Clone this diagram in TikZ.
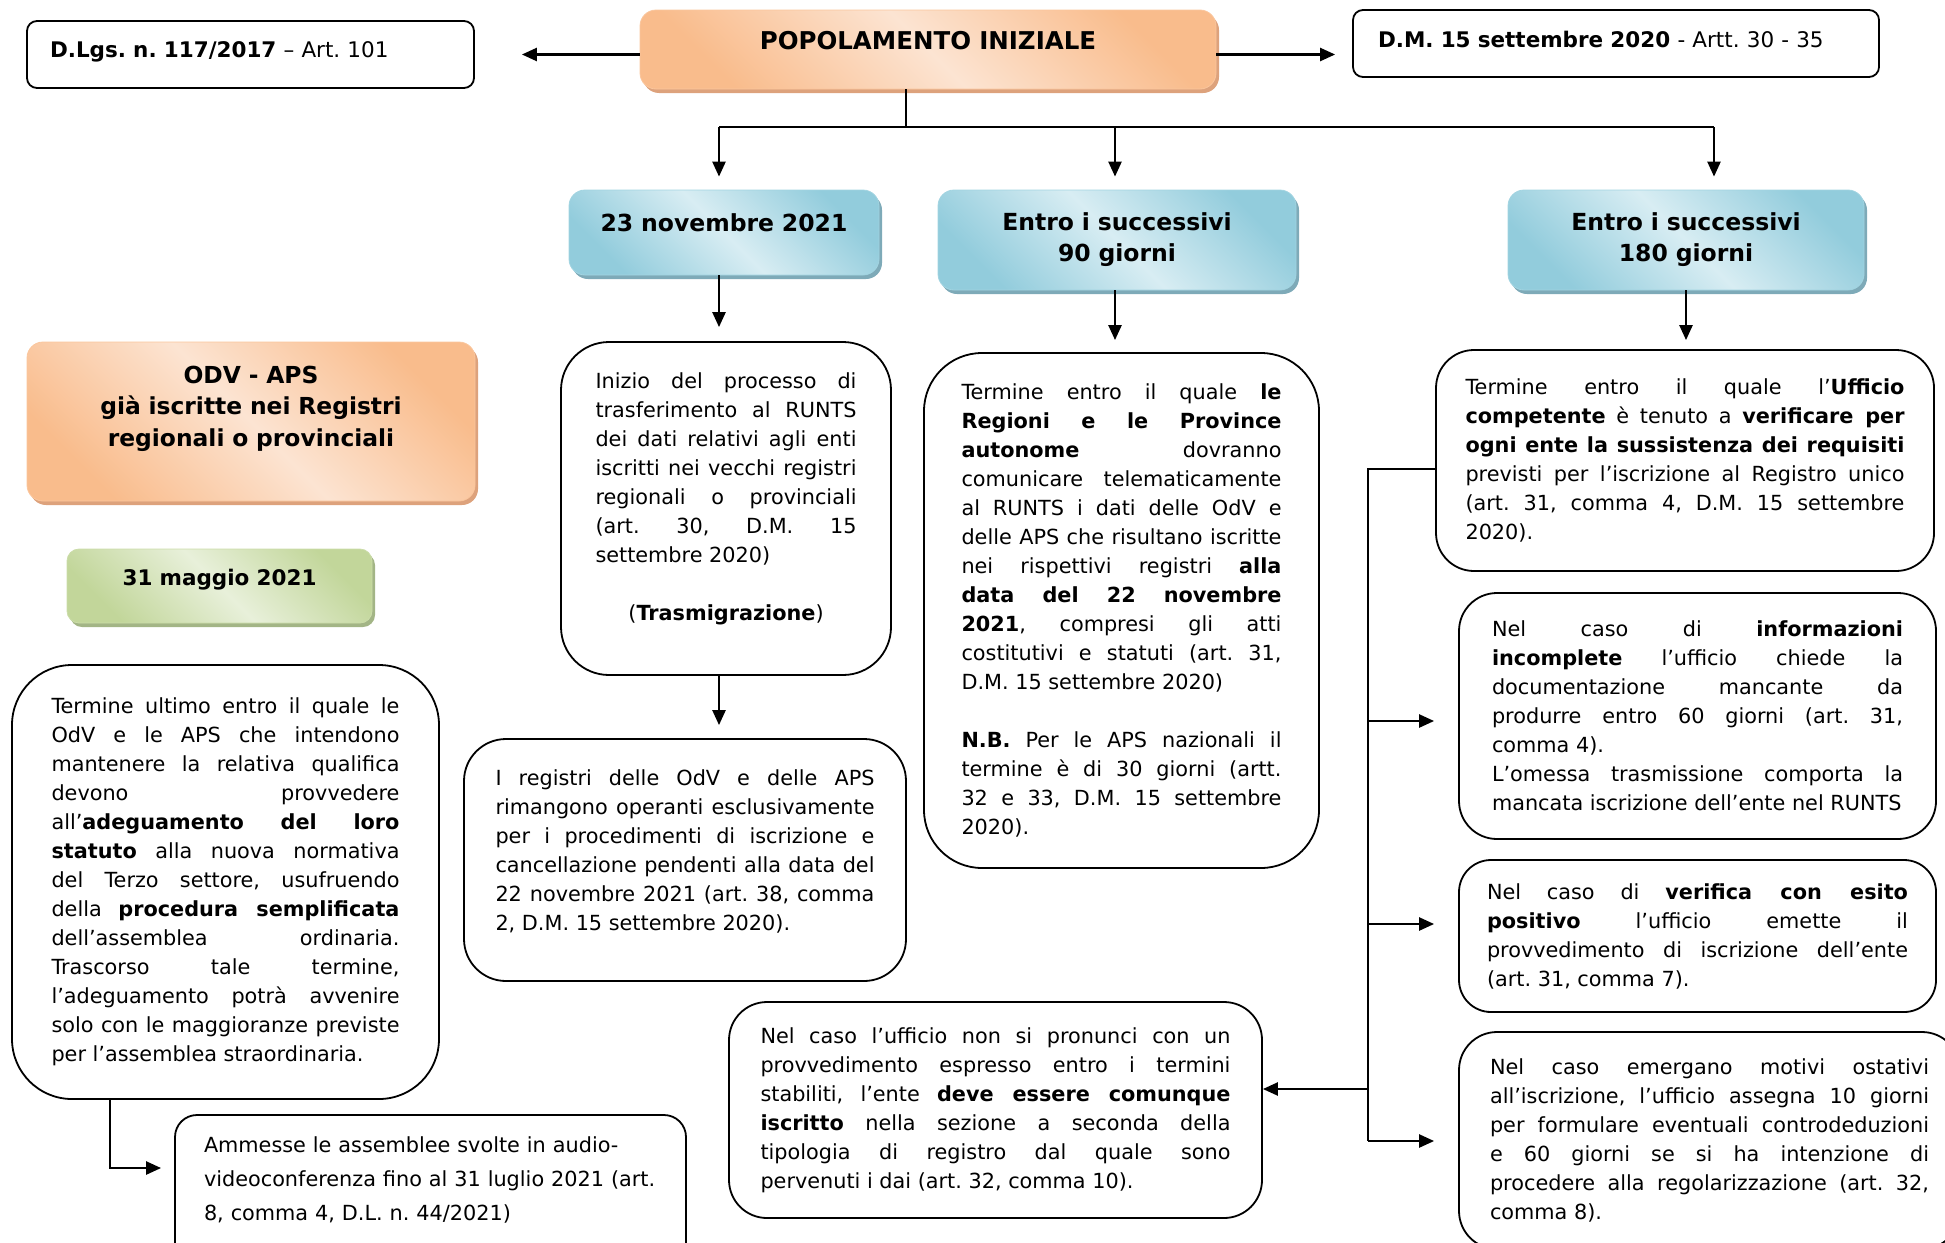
\documentclass[tikz,border=0pt]{standalone}
\usepackage{fontspec}
\setmainfont{DejaVu Sans}
\usetikzlibrary{arrows.meta,shadows}
\hyphenpenalty=10000
\exhyphenpenalty=10000
\hfuzz=30pt
\hbadness=10000
\frenchspacing
\definecolor{orD}{HTML}{F9BC8C}
\definecolor{orL}{HTML}{FCE4D2}
\definecolor{orS}{HTML}{DDA27C}
\definecolor{blD}{HTML}{92CCDC}
\definecolor{blL}{HTML}{D8EDF3}
\definecolor{blS}{HTML}{7EAAB8}
\definecolor{grD}{HTML}{C2D69A}
\definecolor{grL}{HTML}{E8F0DA}
\definecolor{grS}{HTML}{A3B586}
\newcommand\fbody{\fontsize{20.8}{29}\selectfont}
\newcommand\fhead{\fontsize{23.5}{31}\selectfont\bfseries}
\newcommand\fpop{\fontsize{24.5}{30}\selectfont\bfseries}
\newcommand\fodv{\fontsize{23.4}{31.6}\selectfont\bfseries}
\newcommand\fmay{\fontsize{21.5}{26}\selectfont\bfseries}
\newcommand\fref{\fontsize{21.5}{26}\selectfont}
\newcommand\lift[1]{\par\nointerlineskip\vbox to #1{}}
\tikzset{
  tbox/.style={draw, line width=1.8pt, inner sep=0pt, align=justify, font=\fbody},
  cbox/.style n args={3}{inner sep=0pt, align=center, rounded corners=16pt,
     draw=#1!85!white, line width=0.8pt,
     top color=#1, bottom color=#1, middle color=#2, shading angle=-45,
     drop shadow={shadow xshift=3pt, shadow yshift=-4pt, fill=#3, opacity=1}},
  arr/.style={-{Triangle[length=15pt,width=13pt]}, line width=2.4pt},
  thinln/.style={line width=1.4pt},
}
\begin{document}
\begin{tikzpicture}[x=1pt,y=-1pt]
\useasboundingbox (0,0) rectangle (1945,1242);

% top row
\node[tbox, rounded corners=10pt, align=left, font=\fref, minimum width=447pt, minimum height=67pt, text width=401pt]
  (dlgs) at (250.5,54.5) {\textbf{D.Lgs. n. 117/2017} – Art. 101\lift{6pt}};
\node[cbox={orD}{orL}{orS}, font=\fpop, minimum width=576pt, minimum height=79pt, text width=560pt]
  (popol) at (928,49.5) {POPOLAMENTO INIZIALE\lift{17pt}};
\node[tbox, rounded corners=10pt, align=left, font=\fref, minimum width=526pt, minimum height=67pt, text width=476pt]
  (dm) at (1616,43.5) {\textbf{D.M. 15 settembre 2020} - Artt. 30 - 35\lift{8pt}};

% blue headers
\node[cbox={blD}{blL}{blS}, font=\fhead, minimum width=310pt, minimum height=85pt, text width=300pt]
  (b1) at (724,232.5) {23 novembre 2021\lift{20pt}};
\node[cbox={blD}{blL}{blS}, font=\fhead, minimum width=358pt, minimum height=100pt, text width=340pt]
  (b2) at (1117,240) {Entro i successivi\\90 giorni};
\node[cbox={blD}{blL}{blS}, font=\fhead, minimum width=356pt, minimum height=100pt, text width=340pt]
  (b3) at (1686,240) {Entro i successivi\\180 giorni};

% left column
\node[cbox={orD}{orL}{orS}, font=\fodv, minimum width=448pt, minimum height=159pt, text width=430pt]
  (odv) at (251,421.5) {ODV - APS\\già iscritte nei Registri\\regionali o provinciali\lift{26pt}};
\node[cbox={grD}{grL}{grS}, font=\fmay, rounded corners=12pt, minimum width=305pt, minimum height=74pt, text width=290pt]
  (may) at (219.5,586) {31 maggio 2021\lift{12pt}};

\node[tbox, rounded corners=60pt, minimum width=427pt, minimum height=434pt, text width=348pt]
  (ult) at (225.5,882) {Termine ultimo entro il quale le\linebreak
OdV e le APS che intendono\linebreak
mantenere la relativa qualifica\linebreak
devono provvedere\linebreak
all’\textbf{adeguamento del loro\linebreak
statuto} alla nuova normativa\linebreak
del Terzo settore, usufruendo\linebreak
della \textbf{procedura semplificata}\linebreak
dell’assemblea ordinaria.\linebreak
Trascorso tale termine,\linebreak
l’adeguamento potrà avvenire\linebreak
solo con le maggioranze previste\linebreak
per l’assemblea straordinaria.};

\node[tbox, rounded corners=22pt, align=left, font=\fontsize{20.8}{34}\selectfont, minimum width=511pt, minimum height=160pt, text width=453pt]
  (amm) at (430.5,1195) {Ammesse le assemblee svolte in audio-\\videoconferenza fino al 31 luglio 2021 (art.\\8, comma 4, D.L. n. 44/2021)\lift{30pt}};

% middle column
\node[tbox, rounded corners=48pt, minimum width=330pt, minimum height=333pt, text width=261pt]
  (ini) at (726,508.5) {Inizio del processo di\linebreak
trasferimento al RUNTS\linebreak
dei dati relativi agli enti\linebreak
iscritti nei vecchi registri\linebreak
regionali o provinciali\linebreak
(art. 30, D.M. 15\linebreak
settembre 2020)\par\vspace{29pt}
{\centering(\textbf{Trasmigrazione})\par}\lift{20pt}};

\node[tbox, rounded corners=42pt, minimum width=442pt, minimum height=242pt, text width=379pt]
  (reg) at (685,860) {I registri delle OdV e delle APS\linebreak
rimangono operanti esclusivamente\linebreak
per i procedimenti di iscrizione e\linebreak
cancellazione pendenti alla data del\linebreak
22 novembre 2021 (art. 38, comma\linebreak
2, D.M. 15 settembre 2020).\lift{18pt}};

\node[tbox, rounded corners=58pt, minimum width=395pt, minimum height=515pt, text width=320pt]
  (rgn) at (1121.5,610.5) {Termine entro il quale \textbf{le}\linebreak
\textbf{Regioni e le Province}\linebreak
\textbf{autonome} dovranno\linebreak
comunicare telematicamente\linebreak
al RUNTS i dati delle OdV e\linebreak
delle APS che risultano iscritte\linebreak
nei rispettivi registri \textbf{alla}\linebreak
\textbf{data del 22 novembre}\linebreak
\textbf{2021}, compresi gli atti\linebreak
costitutivi e statuti (art. 31,\linebreak
D.M. 15 settembre 2020)\par\vspace{29pt}
\textbf{N.B.} Per le APS nazionali il\linebreak
termine è di 30 giorni (artt.\linebreak
32 e 33, D.M. 15 settembre\linebreak
2020).};

\node[tbox, rounded corners=38pt, minimum width=533pt, minimum height=216pt, text width=470pt]
  (pro) at (995.5,1110) {Nel caso l’ufficio non si pronunci con un\linebreak
provvedimento espresso entro i termini\linebreak
stabiliti, l’ente \textbf{deve essere comunque\linebreak
iscritto} nella sezione a seconda della\linebreak
tipologia di registro dal quale sono\linebreak
pervenuti i dai (art. 32, comma 10).};

% right column
\node[tbox, rounded corners=38pt, minimum width=498pt, minimum height=221pt, text width=439pt]
  (uff) at (1685,460.5) {Termine entro il quale l’\textbf{Ufficio\linebreak
competente} è tenuto a \textbf{verificare per\linebreak
ogni ente la sussistenza dei requisiti}\linebreak
previsti per l’iscrizione al Registro unico\linebreak
(art. 31, comma 4, D.M. 15 settembre\linebreak
2020).};

\node[tbox, rounded corners=38pt, minimum width=477pt, minimum height=246pt, text width=411pt]
  (inf) at (1697.5,716) {Nel caso di \textbf{informazioni\linebreak
incomplete} l’ufficio chiede la\linebreak
documentazione mancante da\linebreak
produrre entro 60 giorni (art. 31,\linebreak
comma 4).\par
L’omessa trasmissione comporta la\linebreak
mancata iscrizione dell’ente nel RUNTS};

\node[tbox, rounded corners=32pt, minimum width=477pt, minimum height=152pt, text width=421pt]
  (ver) at (1697.5,936) {Nel caso di \textbf{verifica con esito\linebreak
positivo} l’ufficio emette il\linebreak
provvedimento di iscrizione dell’ente\linebreak
(art. 31, comma 7).};

\node[tbox, rounded corners=38pt, minimum width=501pt, minimum height=217pt, text width=439pt]
  (ost) at (1709.5,1140.5) {\rightskip=20pt\relax Nel caso emergano motivi ostativi\linebreak
all’iscrizione, l’ufficio assegna 10 giorni\linebreak
per formulare eventuali controdeduzioni\linebreak
e 60 giorni se si ha intenzione di\linebreak
procedere alla regolarizzazione (art. 32,\linebreak
comma 8).};

% connectors: top
\draw[arr, shorten >=47pt] (popol.west |- dlgs.east) -- (dlgs.east);
\draw[arr, shorten >=17pt] (popol.east |- dlgs.east) -- (dm.west |- dlgs.east);
\coordinate (split) at (906,127);
\coordinate (s1) at (719,127);
\coordinate (s2) at (1115,127);
\coordinate (s3) at (1714,127);
\draw[thinln] (popol.south -| split) -- (split);
\draw[thinln] (s1) -- (s3);
\draw[arr, shorten >=13pt] (s1) -- (s1 |- b1.north);
\draw[arr, shorten >=13pt] (s2) -- (s2 |- b2.north);
\draw[arr, shorten >=13pt] (s3) -- (s3 |- b3.north);
\draw[arr, shorten >=14pt] (b1.south -| s1) -- (ini.north -| s1);
\draw[arr, shorten >=12pt] (b2.south -| s2) -- (rgn.north -| s2);
\draw[arr, shorten >=9pt] (b3.south) -- (uff.north -| b3.south);
\draw[arr, shorten >=13pt] (ini.south -| s1) -- (reg.north -| s1);

% left elbow
\coordinate (e1) at (110,1168);
\draw[arr, shorten >=13pt] (ult.south -| e1) -- (e1) -- (amm.west |- e1);

% right trunk
\coordinate (t0) at (1368,469);
\coordinate (ta) at (1368,721);
\coordinate (tb) at (1368,924);
\coordinate (tp) at (1368,1089);
\coordinate (t1) at (1368,1141);
\draw[thinln] (uff.west |- t0) -- (t0) -- (t1);
\draw[arr, shorten >=24pt] (ta) -- (inf.west |- ta);
\draw[arr, shorten >=24pt] (tb) -- (ver.west |- tb);
\draw[arr, shorten >=24pt] (t1) -- (ost.west |- t1);
\draw[arr] (tp) -- (pro.east |- tp);
\end{tikzpicture}
\end{document}
